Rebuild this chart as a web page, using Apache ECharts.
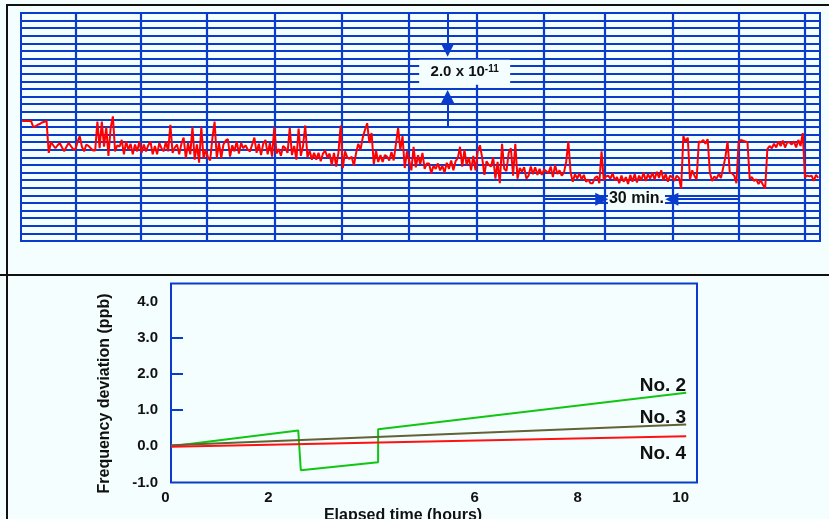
<!DOCTYPE html>
<html>
<head>
<meta charset="utf-8">
<script src="https://cdn.jsdelivr.net/npm/echarts@6/dist/echarts.min.js"></script>
<style>
html,body{margin:0;padding:0;background:#f4fefe;}
#chart{width:829px;height:519px;}
</style>
</head>
<body>
<div id="chart"></div>
<script>
// ---------- TOP PANEL: strip-chart recording ----------
// Trace read once per minute, in chart divisions (0 = bottom line, 30 = top line).
// Time in minutes relative to the first heavy vertical line.
const traceStartMinute = -24;
const trace_m24 = [15.8,15.8,15.8,15.8,15.8,15.0,15.1,15.3,15.4,15.6,15.7,15.8,11.6,13.0,12.6,12.2,12.6,12.9,12.3,11.8,12.4,12.9,12.5,12.1];
const trace_0   = [12.0,13.0,13.8,12.4,11.8,12.7,12.5,12.2,11.9,11.9,15.7,12.2,15.7,12.4,15.0,11.2,14.9,16.4,11.8,12.6,12.4,13.3,11.4,13.1,12.0,12.8,11.4,12.7,11.8,13.1];
const trace_30  = [11.6,12.7,11.8,12.6,13.1,11.4,12.5,11.4,12.9,12.2,11.8,13.1,11.8,15.3,11.6,12.3,12.7,11.4,12.8,13.6,10.9,12.9,11.4,15.0,10.7,12.7,10.3,15.0,10.9,12.0];
const trace_60  = [11.0,10.6,13.5,15.7,10.9,12.9,10.9,12.7,13.2,13.4,11.1,12.6,11.8,13.1,11.5,12.9,12.2,12.6,12.0,11.8,12.7,13.6,11.6,12.8,11.3,12.8,13.3,11.4,12.9,11.1];
const trace_90  = [15.0,11.5,12.1,11.2,12.5,12.2,11.6,14.9,11.3,12.5,10.7,14.8,11.2,12.5,15.2,11.0,11.9,10.7,11.6,10.7,11.6,10.5,11.5,11.9,11.0,11.5,10.0,11.6,9.8,11.6];
const trace_120 = [15.2,9.6,11.8,11.0,10.8,11.1,9.9,11.6,12.8,12.0,13.6,14.6,15.5,12.9,14.2,10.1,11.9,10.4,11.3,10.4,11.3,11.1,10.6,11.7,10.6,12.7,14.9,12.0,13.8,9.6];
const trace_150 = [11.8,10.6,9.3,12.4,9.7,11.3,10.1,11.6,9.5,10.2,10.2,8.9,9.9,9.5,10.2,9.3,9.9,9.0,10.3,9.5,10.6,9.3,10.5,10.9,12.4,9.8,12.0,10.0,11.0,9.3];
const trace_180 = [11.2,9.3,11.8,12.6,11.0,8.7,10.5,10.0,9.8,11.0,8.2,10.4,7.6,12.8,9.5,9.2,11.6,12.2,8.6,12.8,8.2,9.6,9.1,9.7,8.2,8.6,9.8,8.8,9.7,8.7];
const trace_210 = [9.5,8.7,9.4,9.2,8.9,9.8,8.4,10.0,8.8,9.3,8.6,9.0,10.4,13.1,9.0,7.8,8.8,8.2,8.9,8.1,8.7,7.8,8.1,7.6,7.6,8.3,8.5,7.6,11.8,8.0];
const trace_240 = [8.5,8.6,8.2,8.9,8.0,8.4,7.6,8.6,7.8,8.4,7.5,8.7,7.8,8.8,7.7,8.6,8.0,9.0,7.9,8.8,8.2,9.0,8.1,9.1,8.3,9.3,8.0,8.8,7.8,8.6];
const trace_270 = [8.4,7.9,8.6,8.3,6.9,13.8,13.1,13.6,8.1,9.3,8.6,8.1,13.1,13.0,13.3,12.8,13.4,9.0,7.9,8.5,8.2,8.8,8.3,9.6,11.0,13.1,9.0,8.9,8.6,7.6];
const trace_300 = [13.0,13.3,13.2,13.1,13.0,8.2,8.4,7.9,8.1,7.5,8.0,7.4,6.9,12.1,12.5,12.2,12.8,12.3,13.1,12.5,13.2,12.3,13.0,13.0,12.7,13.1,12.3,13.3,12.5,14.2];
const trace_330 = [8.4,8.6,8.5,8.6,7.9,8.7,8.3];

// Heavy vertical chart-paper lines (30-minute divisions), minutes
const paperLineMinutes = [0, 29.7, 59.5, 90.4, 120.3, 151.0, 181.6, 211.7, 239.6, 270.2, 300.2, 330.0];
const stripTimeRange = [-24.55, 336.8];   // minutes
const stripDivisions = [0, 30];           // chart divisions

// Annotation positions (data units: minutes, divisions)
const scaleMarkMinute = 168.4;
const scaleMarkDown = [30, 25.1];
const scaleMarkUp = [15.0, 19.0];
const scaleLabelPos = [176.1, 22.2];
const spanLevel = 5.5;
const spanLeftArrow = [212.0, 238.1];
const spanRightArrow = [300.2, 269.8];
const spanLabelPos = [253.8, 5.6];

// ---------- BOTTOM PANEL: frequency deviation ----------
const hoursNo2 = [0, 2.47, 2.52, 4.02, 4.02, 10];
const ppbNo2   = [0, 0.44, -0.66, -0.44, 0.47, 1.48];
const hoursNo3 = [0, 10];
const ppbNo3   = [0.03, 0.60];
const hoursNo4 = [0, 10];
const ppbNo4   = [-0.01, 0.28];
const xTickLabels = [0, 2, 6, 8, 10];
const yTickLabels = [-1, 0, 1, 2, 3, 4];
const yTickMarks = [1, 2, 3];

// ---------- build ----------
const traceRows = [trace_m24, trace_0, trace_30, trace_60, trace_90, trace_120, trace_150,
                   trace_180, trace_210, trace_240, trace_270, trace_300, trace_330];
const traceData = [].concat(...traceRows).map((v, i) => [traceStartMinute + i, v]);
const pairs = (xs, ys) => xs.map((x, i) => [x, ys[i]]);

const BLUE = '#0a3ccc';
const BG = '#f4fefe';
const FONT = '"Liberation Sans", Arial, Helvetica, sans-serif';
const TXT = '#111';

const chart = echarts.init(document.getElementById('chart'), null, {renderer: 'canvas'});
chart.setOption({
  animation: false,
  backgroundColor: BG,
  textStyle: {fontFamily: FONT},
  graphic: [
    {type: 'line', shape: {x1: 6, y1: 5, x2: 829, y2: 5}, style: {stroke: '#111', lineWidth: 2}},
    {type: 'line', shape: {x1: 7, y1: 5, x2: 7, y2: 519}, style: {stroke: '#111', lineWidth: 2}},
    {type: 'line', shape: {x1: 0, y1: 275, x2: 829, y2: 275}, style: {stroke: '#111', lineWidth: 2}}
  ],
  grid: [
    {left: 21, top: 13, width: 799, height: 228, show: true, borderColor: BLUE, borderWidth: 2,
     backgroundColor: 'transparent', containLabel: false, outerBoundsMode: 'none'},
    {left: 171, top: 283.5, width: 526, height: 199, show: true, borderColor: BLUE, borderWidth: 2,
     backgroundColor: 'transparent', containLabel: false, outerBoundsMode: 'none'}
  ],
  xAxis: [
    {gridIndex: 0, type: 'value', min: stripTimeRange[0], max: stripTimeRange[1], show: false},
    {gridIndex: 1, type: 'value', min: 0, max: 10.21,
     axisLine: {show: false}, axisTick: {show: false}, splitLine: {show: false},
     axisLabel: {customValues: xTickLabels, fontSize: 15, fontWeight: 'bold', color: TXT, margin: 8,
                 padding: [0, 11, 0, 0]},
     name: 'Elapsed time (hours)', nameLocation: 'middle', nameGap: 25, nameMoveOverlap: false,
     nameTextStyle: {fontSize: 16, fontWeight: 'bold', color: TXT, padding: [0, 62, 0, 0]}}
  ],
  yAxis: [
    {gridIndex: 0, type: 'value', min: stripDivisions[0], max: stripDivisions[1], interval: 1,
     axisLine: {show: false}, axisTick: {show: false}, axisLabel: {show: false},
     splitLine: {show: true, lineStyle: {color: BLUE, width: 2}}},
    {gridIndex: 1, type: 'value', min: -1, max: 4.5, interval: 1,
     axisLine: {show: false},
     axisTick: {show: true, inside: true, length: 12, customValues: yTickMarks, lineStyle: {color: BLUE, width: 2}},
     axisLabel: {customValues: yTickLabels, formatter: v => v.toFixed(1), fontSize: 15, fontWeight: 'bold',
                 color: TXT, margin: 13, padding: [4, 0, 0, 0]},
     splitLine: {show: false},
     name: 'Frequency deviation (ppb)', nameLocation: 'middle', nameGap: 58, nameRotate: 90, nameMoveOverlap: false,
     nameTextStyle: {fontSize: 16, fontWeight: 'bold', color: TXT, padding: [0, 21, 0, 0]}}
  ],
  series: [
    {
      name: 'paper', type: 'line', xAxisIndex: 0, yAxisIndex: 0, data: [], z: 2, silent: true,
      markLine: {
        silent: true, symbol: ['none', 'none'], label: {show: false},
        lineStyle: {color: BLUE, width: 2.2, type: 'solid'},
        emphasis: {disabled: true},
        data: paperLineMinutes.map(m => ({xAxis: m}))
      }
    },
    {
      name: 'trace', type: 'line', xAxisIndex: 0, yAxisIndex: 0, data: traceData, z: 5,
      showSymbol: false, symbol: 'none', lineStyle: {color: '#ff0000', width: 2}, silent: true
    },
    {
      name: 'annotations', type: 'line', xAxisIndex: 0, yAxisIndex: 0, data: [], z: 8, silent: true,
      markLine: {
        silent: true, symbol: ['none', 'triangle'], symbolSize: [13, 13], label: {show: false},
        lineStyle: {color: BLUE, width: 2, type: 'solid'}, emphasis: {disabled: true},
        data: [
          [{coord: [scaleMarkMinute, scaleMarkDown[0]]}, {coord: [scaleMarkMinute, scaleMarkDown[1]]}],
          [{coord: [scaleMarkMinute, scaleMarkUp[0]]}, {coord: [scaleMarkMinute, scaleMarkUp[1]]}],
          [{coord: [spanLeftArrow[0], spanLevel]}, {coord: [spanLeftArrow[1], spanLevel]}],
          [{coord: [spanRightArrow[0], spanLevel]}, {coord: [spanRightArrow[1], spanLevel]}]
        ]
      },
      markPoint: {
        silent: true,
        data: [
          {coord: scaleLabelPos, symbol: 'rect', symbolSize: [91, 25], itemStyle: {color: BG},
           label: {show: true, position: 'inside', formatter: '{a|2.0 x 10}{b|-11}',
                   rich: {a: {fontSize: 15, fontWeight: 'bold', color: TXT, fontFamily: FONT, lineHeight: 16},
                          b: {fontSize: 10, fontWeight: 'bold', color: TXT, fontFamily: FONT, lineHeight: 10, verticalAlign: 'top'}}}},
          {coord: spanLabelPos, symbol: 'rect', symbolSize: [57, 17], itemStyle: {color: BG},
           label: {show: true, position: 'inside', formatter: '30 min.', fontSize: 16, fontWeight: 'bold', color: TXT}}
        ]
      }
    },
    {
      name: 'No. 2', type: 'line', xAxisIndex: 1, yAxisIndex: 1, data: pairs(hoursNo2, ppbNo2),
      showSymbol: false, symbol: 'none', lineStyle: {color: '#11c611', width: 2}, z: 4,
      endLabel: {show: true, formatter: 'No. 2', align: 'right', distance: 0, offset: [0, -7],
                 fontSize: 19, fontWeight: 'bold', color: TXT}
    },
    {
      name: 'No. 3', type: 'line', xAxisIndex: 1, yAxisIndex: 1, data: pairs(hoursNo3, ppbNo3),
      showSymbol: false, symbol: 'none', lineStyle: {color: '#626234', width: 2}, z: 4,
      endLabel: {show: true, formatter: 'No. 3', align: 'right', distance: 0, offset: [0, -7],
                 fontSize: 19, fontWeight: 'bold', color: TXT}
    },
    {
      name: 'No. 4', type: 'line', xAxisIndex: 1, yAxisIndex: 1, data: pairs(hoursNo4, ppbNo4),
      showSymbol: false, symbol: 'none', lineStyle: {color: '#ff1111', width: 2}, z: 4,
      endLabel: {show: true, formatter: 'No. 4', align: 'right', distance: 0, offset: [0, 18],
                 fontSize: 19, fontWeight: 'bold', color: TXT}
    }
  ]
});
</script>
</body>
</html>
